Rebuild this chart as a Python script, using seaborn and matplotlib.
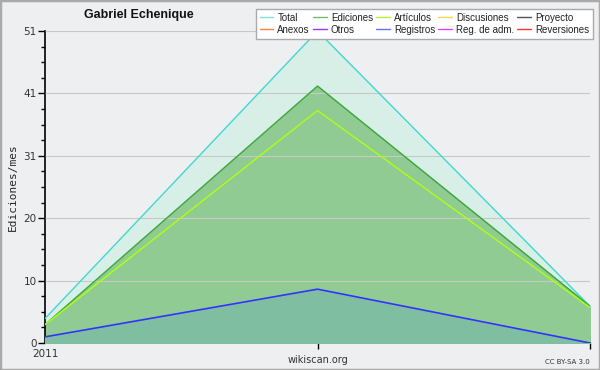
import matplotlib
matplotlib.use("Agg")
import matplotlib.pyplot as plt
import seaborn as sns
import pandas as pd
from matplotlib.lines import Line2D
from matplotlib.patches import Rectangle

sns.set_theme(style="white")
plt.rcParams['font.family'] = ['DejaVu Sans']

# Data
periods = [0, 1, 2]
total = [4, 51, 6]
ediciones = [3, 42, 6]
articulos = [3, 38, 5.8]
registros = [1, 8.8, 0]
ytick_vals = [0, 10.2, 20.4, 30.6, 40.8, 51]
ytick_labels = ["0", "10", "20", "31", "41", "51"]
legend_labels = ["Total", "Ediciones", "Artículos", "Discusiones", "Proyecto",
                 "Anexos", "Otros", "Registros", "Reg. de adm.", "Reversiones"]
legend_colors = ["#7fe0dc", "#66c266", "#b5f23a", "#ffd24d", "#555555",
                 "#ff8040", "#9933ff", "#7070ff", "#e040ff", "#ff3333"]

df = pd.DataFrame({"x": periods, "Total": total, "Ediciones": ediciones,
                   "Artículos": articulos, "Registros": registros})

bg = "#eeeff1"
fig = plt.figure(figsize=(6, 3.7), dpi=100, facecolor=bg)
ax = fig.add_axes([45/600, 27/370, 545/600, 312/370])
ax.set_facecolor(bg)

ax.fill_between(df["x"], df["Total"], color="#d8efe8", zorder=1)
ax.fill_between(df["x"], df["Ediciones"], color="#90cb93", zorder=2)
ax.fill_between(df["x"], df["Registros"], color="#80bea2", zorder=3)

sns.lineplot(data=df, x="x", y="Total", color="#40d8d0", lw=1, ax=ax, zorder=4)
sns.lineplot(data=df, x="x", y="Ediciones", color="#3aa83a", lw=1, ax=ax, zorder=4)
sns.lineplot(data=df, x="x", y="Artículos", color="#b0ff10", lw=1, ax=ax, zorder=4)
sns.lineplot(data=df, x="x", y="Registros", color="#3333ff", lw=1.2, ax=ax, zorder=5)

ax.set_xlim(0, 2)
ax.set_ylim(0, 51)
ax.set_yticks(ytick_vals)
ax.set_yticklabels(ytick_labels, fontsize=7.5, color="#333333")
ax.set_yticks([i * 2.55 for i in range(21)], minor=True)
ax.yaxis.grid(True, which="major", color="#c8c8c8", lw=0.8, zorder=0)
ax.set_axisbelow(False)
for gl in ax.get_ygridlines():
    gl.set_zorder(3.5)
ax.tick_params(axis="y", which="major", length=5, width=1, color="black", pad=1, direction="out", left=True)
ax.tick_params(axis="y", which="minor", length=3, width=1, color="black", left=True)
ax.set_xticks([1, 2])
ax.set_xticklabels(["", ""])
ax.tick_params(axis="x", length=4, width=1, color="black", bottom=True)
ax.set_xlabel("")
ax.set_ylabel("Ediciones/mes", family="DejaVu Sans Mono", fontsize=8, labelpad=4)

for s in ["top", "right"]:
    ax.spines[s].set_visible(False)
for s in ["left", "bottom"]:
    ax.spines[s].set_color("black")
    ax.spines[s].set_linewidth(1.2)

fig.text(45/600, 1 - 354/370, "2011", fontsize=7.5, color="#333333", ha="center", va="center")
fig.text(318/600, 1 - 360/370, "wikiscan.org", fontsize=7, color="#333333", ha="center", va="center")
fig.text(590/600, 1 - 362/370, "CC BY-SA 3.0", fontsize=5, color="#333333", ha="right", va="center")
fig.text(139/600, 1 - 15/370, "Gabriel Echenique", family="Liberation Sans", fontsize=9,
         fontweight="bold", color="#111111", ha="center", va="center")

# legend: column-wise order
order = [0, 5, 1, 6, 2, 7, 3, 8, 4, 9]
handles = [Line2D([0], [0], color=legend_colors[i], lw=1) for i in order]
labels = [legend_labels[i] for i in order]
leg = fig.legend(handles, labels, ncol=5, loc="upper right", bbox_to_anchor=(593/600, 1 - 9/370),
                 prop={"family": "Liberation Sans", "size": 7}, frameon=True, fancybox=False,
                 handlelength=1.4, handletextpad=0.4,
                 columnspacing=0.35, labelspacing=0.2, borderpad=0.4, borderaxespad=0)
leg.get_frame().set_edgecolor("#aaaaaa")
leg.get_frame().set_facecolor("white")
leg.get_frame().set_alpha(1)
for t in leg.get_texts():
    t.set_color("#222222")

fig.patches.append(Rectangle((0, 0), 1, 1, transform=fig.transFigure, fill=False,
                             edgecolor="#aaaaaa", lw=2.5))

fig.savefig("out.png", dpi=100, facecolor=bg)
